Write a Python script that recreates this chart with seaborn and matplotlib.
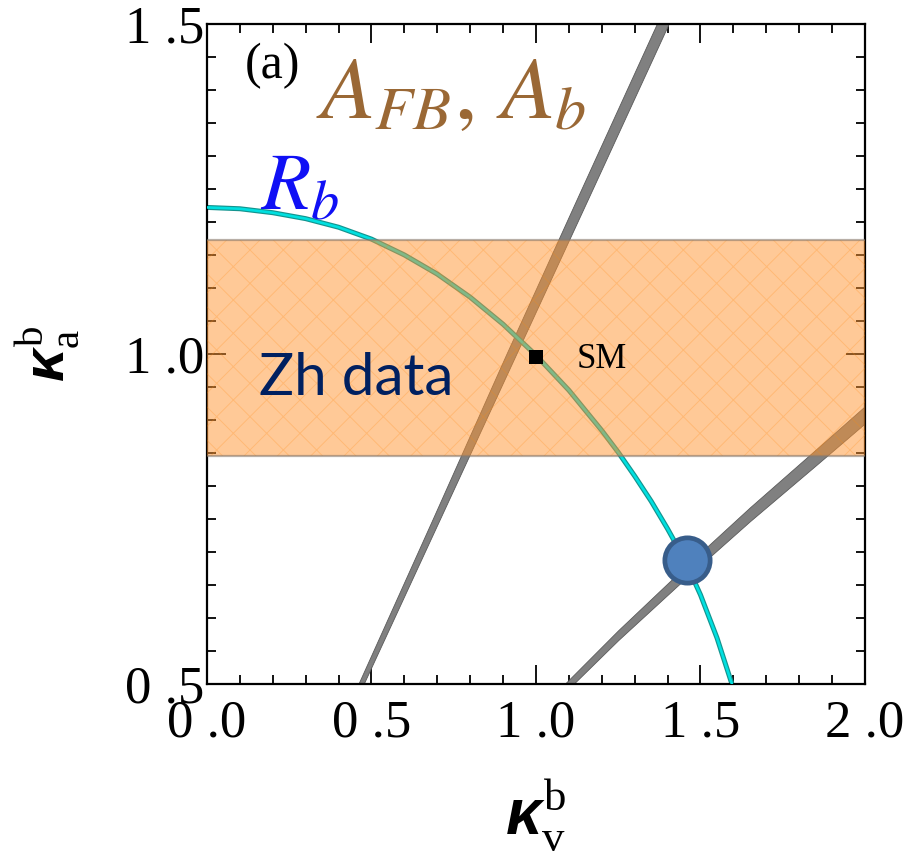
import matplotlib
matplotlib.use('Agg')
import matplotlib.pyplot as plt
import seaborn as sns
from matplotlib.ticker import MultipleLocator

# R_b constraint (cyan curve)
rb_x = [0.0, 0.1, 0.2, 0.3, 0.4, 0.5, 0.6, 0.7, 0.8, 0.9, 1.0, 1.1, 1.2, 1.25,
        1.3, 1.35, 1.4, 1.45, 1.5, 1.55, 1.6]
rb_y = [1.222, 1.220, 1.214, 1.205, 1.192, 1.174, 1.150, 1.121, 1.086, 1.045, 0.998,
        0.945, 0.884, 0.851, 0.815, 0.777, 0.735, 0.690, 0.635, 0.570, 0.493]

# A_FB, A_b bands (gray)
afb1_y = [0.5, 0.75, 1.0, 1.25, 1.5]
afb1_xlo = [0.460, 0.686, 0.910, 1.138, 1.367]
afb1_xhi = [0.476, 0.708, 0.940, 1.172, 1.403]

afb2_x = [1.08, 1.25, 1.45, 1.65, 1.85, 2.0]
afb2_ylo = [0.4835, 0.5665, 0.658, 0.7465, 0.831, 0.895]
afb2_yhi = [0.4965, 0.5815, 0.676, 0.7675, 0.855, 0.921]

# Zh data band
zh_x = [0.0, 2.0]
zh_lo = 0.845
zh_hi = 1.172

# points
sm_x, sm_y = [1.0], [0.995]
fit_x, fit_y = [1.458], [0.688]

xticks = [0.0, 0.5, 1.0, 1.5, 2.0]
xtick_labels = ['0 .0', '0 .5', '1 .0', '1 .5', '2 .0']
yticks = [0.5, 1.0, 1.5]
ytick_labels = ['0 .5', '1 .0', '1 .5']

sns.set_theme(style='white')
plt.rcParams['font.family'] = ['Liberation Serif', 'DejaVu Sans']
plt.rcParams['mathtext.fontset'] = 'custom'
plt.rcParams['mathtext.rm'] = 'Liberation Serif'
plt.rcParams['mathtext.it'] = 'Liberation Sans:italic:bold'
plt.rcParams['hatch.linewidth'] = 0.7

fig = plt.figure(figsize=(9.07, 8.61), dpi=100)
ax = fig.add_axes([0.2282, 0.2056, 0.7255, 0.7666])

# gray bands
ax.fill_betweenx(afb1_y, afb1_xlo, afb1_xhi, facecolor='#808080', edgecolor='#5a5a5a', lw=0.6, zorder=2)
ax.fill_between(afb2_x, afb2_ylo, afb2_yhi, facecolor='#808080', edgecolor='#5a5a5a', lw=0.6, zorder=2)

# R_b curve
sns.lineplot(x=rb_x, y=rb_y, sort=False, color='#14948f', lw=3.6, ax=ax, zorder=2.5)
sns.lineplot(x=rb_x, y=rb_y, sort=False, color='#00e0e0', lw=1.9, ax=ax, zorder=2.6)

# Zh band
ax.fill_between(zh_x, zh_lo, zh_hi, facecolor='#ff9430', alpha=0.5, edgecolor='none', zorder=3)
ax.fill_between(zh_x, zh_lo, zh_hi, facecolor='none', edgecolor='#ff8a10', hatch='x', lw=0, alpha=0.25, zorder=3.1)
ax.axhline(zh_lo, color='#8a7a6c', alpha=0.6, lw=1.6, zorder=3.2)
ax.axhline(zh_hi, color='#8a7a6c', alpha=0.6, lw=1.6, zorder=3.2)

# markers
sns.scatterplot(x=sm_x, y=sm_y, marker='s', s=10.5 ** 2, color='black', linewidth=0, ax=ax, zorder=6)
sns.scatterplot(x=fit_x, y=fit_y, marker='o', s=32.6 ** 2, color='#4f81bd', edgecolor='#385d8a',
                linewidth=3.4, ax=ax, zorder=6)

ax.set_xlim(0, 2)
ax.set_ylim(0.5, 1.5)
ax.set_xticks(xticks)
ax.set_xticklabels(xtick_labels)
ax.set_yticks(yticks)
ax.set_yticklabels(ytick_labels)
ax.xaxis.set_minor_locator(MultipleLocator(0.1))
ax.yaxis.set_minor_locator(MultipleLocator(0.05))
ax.tick_params(which='both', direction='in', top=True, right=True, bottom=True, left=True,
               color='black', labelcolor='black', width=1.3, labelsize=38)
ax.tick_params(which='major', length=13.5, pad=11)
ax.tick_params(which='minor', length=6.5)
ax.tick_params(axis='y', pad=2)
for s in ax.spines.values():
    s.set_color('black')
    s.set_linewidth(1.6)

ax.set_xlabel(r'$\kappa_{\mathrm{v}}^{\mathrm{b}}$', fontsize=46, color='black')
ax.set_ylabel(r'$\kappa_{\mathrm{a}}^{\mathrm{b}}$', fontsize=42, color='black')
ax.xaxis.set_label_coords(0.5, -0.142)
ax.yaxis.set_label_coords(-0.19, 0.5)

# annotations
ax.text(0.198, 1.436, '(a)', fontsize=36, ha='center', va='center', color='black', zorder=7)
ax.text(0.33, 1.358, r'$A_{FB},\,A_b$', fontsize=64, color='#9a6835', math_fontfamily='stix',
        ha='left', va='baseline', zorder=7)
ax.text(0.161, 1.218, r'$R_b$', fontsize=58, color='#1010f5', math_fontfamily='stix',
        ha='left', va='baseline', zorder=7)
ax.text(0.158, 0.938, 'Zh data', fontsize=42, family='Lato', color='#002060',
        ha='left', va='baseline', zorder=7)
ax.text(1.124, 0.979, 'SM', fontsize=25, color='black', ha='left', va='baseline', zorder=7)

fig.savefig('out.png', dpi=100)
